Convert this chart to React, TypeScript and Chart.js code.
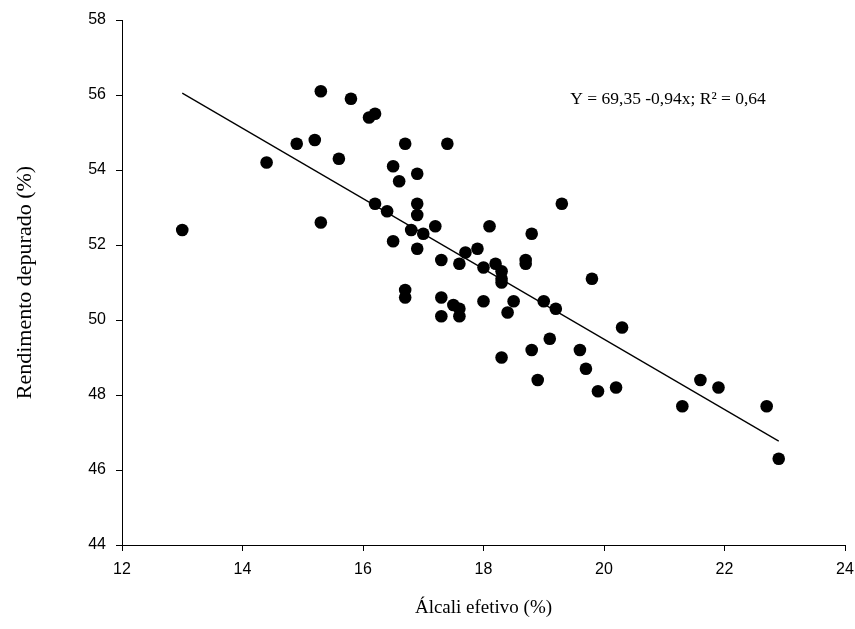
import React, { useEffect, useRef } from "react";
import { Chart, registerables } from "chart.js";

Chart.register(...registerables);

// Observed points: Álcali efetivo (%) vs Rendimento depurado (%)
const alcaliValues = [
  13.0, 14.4, 14.9, 15.2, 15.3, 15.3, 15.6, 15.8, 16.1, 16.2,
  16.2, 16.4, 16.5, 16.5, 16.6, 16.7, 16.7, 16.7, 16.8, 16.9,
  16.9, 16.9, 16.9, 17.0, 17.2, 17.3, 17.3, 17.3, 17.4, 17.5,
  17.6, 17.6, 17.6, 17.7, 17.9, 18.0, 18.0, 18.1, 18.2, 18.3,
  18.3, 18.3, 18.3, 18.4, 18.5, 18.7, 18.7, 18.8, 18.8, 18.9,
  19.0, 19.1, 19.2, 19.3, 19.6, 19.7, 19.8, 19.9, 20.2, 20.3,
  21.3, 21.6, 21.9, 22.7, 22.9,
];
const rendimentoValues = [
  52.4, 54.2, 54.7, 54.8, 56.1, 52.6, 54.3, 55.9, 55.4, 55.5,
  53.1, 52.9, 54.1, 52.1, 53.7, 54.7, 50.8, 50.6, 52.4, 53.9,
  53.1, 52.8, 51.9, 52.3, 52.5, 51.6, 50.6, 50.1, 54.7, 50.4,
  51.5, 50.3, 50.1, 51.8, 51.9, 51.4, 50.5, 52.5, 51.5, 51.3,
  51.1, 51.0, 49.0, 50.2, 50.5, 51.6, 51.5, 52.3, 49.2, 48.4,
  50.5, 49.5, 50.3, 53.1, 49.2, 48.7, 51.1, 48.1, 48.2, 49.8,
  47.7, 48.4, 48.2, 47.7, 46.3,
];

// Regression line end points as drawn
const fitX = [13.0, 22.9];
const fitY = [56.05, 46.77];

const xTicks = [12, 14, 16, 18, 20, 22, 24];
const yTicks = [44, 46, 48, 50, 52, 54, 56, 58];

const equationText = "Y = 69,35 -0,94x; R² = 0,64";
const equationAt = [19.44, 55.87];

const xTitle = "Álcali efetivo (%)";
const yTitle = "Rendimento depurado (%)";

export default function App() {
  const ref = useRef<HTMLCanvasElement | null>(null);

  useEffect(() => {
    if (!ref.current) return;
    const points = alcaliValues.map((x, i) => ({ x, y: rendimentoValues[i] }));
    const line = fitX.map((x, i) => ({ x, y: fitY[i] }));

    const annotation = {
      id: "equation",
      afterDraw(chart: any) {
        const { ctx, scales } = chart;
        ctx.save();
        ctx.font = '17.5px "Liberation Serif"';
        ctx.fillStyle = "#000";
        ctx.textBaseline = "middle";
        ctx.textAlign = "left";
        ctx.fillText(
          equationText,
          scales.x.getPixelForValue(equationAt[0]),
          scales.y.getPixelForValue(equationAt[1])
        );
        ctx.restore();
      },
    };

    const chart = new Chart(ref.current, {
      type: "scatter",
      data: {
        datasets: [
          {
            type: "line",
            data: line,
            borderColor: "#000",
            borderWidth: 1.3,
            pointRadius: 0,
            fill: false,
          } as any,
          {
            data: points,
            backgroundColor: "#000",
            borderColor: "#000",
            pointRadius: 6.3,
            pointHoverRadius: 6.3,
            borderWidth: 0,
          },
        ],
      },
      options: {
        responsive: false,
        animation: false,
        devicePixelRatio: 1,
        layout: { padding: { top: 20, right: 10, left: 0, bottom: 0 } },
        plugins: {
          legend: { display: false },
          tooltip: { enabled: false },
        },
        scales: {
          x: {
            type: "linear",
            min: 12,
            max: 24,
            afterBuildTicks: (s: any) => {
              s.ticks = xTicks.map((v) => ({ value: v }));
            },
            afterFit: (s: any) => {
              s.height = 84;
              s.paddingLeft = 0;
              s.paddingRight = 0;
            },
            grid: {
              drawOnChartArea: false,
              drawTicks: true,
              tickLength: 6,
              color: "#000",
            },
            border: { color: "#000", width: 1 },
            ticks: {
              color: "#000",
              padding: 9,
              font: { family: '"Liberation Sans", Arial', size: 16 },
            },
            title: {
              display: true,
              text: xTitle,
              color: "#000",
              font: { family: '"Liberation Serif"', size: 19 },
              padding: { top: 0, bottom: 10 },
            },
          },
          y: {
            type: "linear",
            min: 44,
            max: 58,
            afterBuildTicks: (s: any) => {
              s.ticks = yTicks.map((v) => ({ value: v }));
            },
            afterFit: (s: any) => {
              s.width = 122;
              s.paddingTop = 0;
              s.paddingBottom = 0;
            },
            grid: {
              drawOnChartArea: false,
              drawTicks: true,
              tickLength: 6,
              color: "#000",
            },
            border: { color: "#000", width: 1 },
            ticks: {
              color: "#000",
              padding: 10,
              font: { family: '"Liberation Sans", Arial', size: 16 },
            },
            title: {
              display: true,
              text: yTitle,
              color: "#000",
              font: { family: '"Liberation Serif"', size: 22 },
              padding: { top: 12, bottom: 0 },
            },
          },
        },
      },
      plugins: [annotation],
    });

    return () => chart.destroy();
  }, []);

  return (
    <div style={{ position: "absolute", left: 0, top: 0, width: 855, height: 629, background: "#fff" }}>
      <canvas ref={ref} width={855} height={629} />
    </div>
  );
}
